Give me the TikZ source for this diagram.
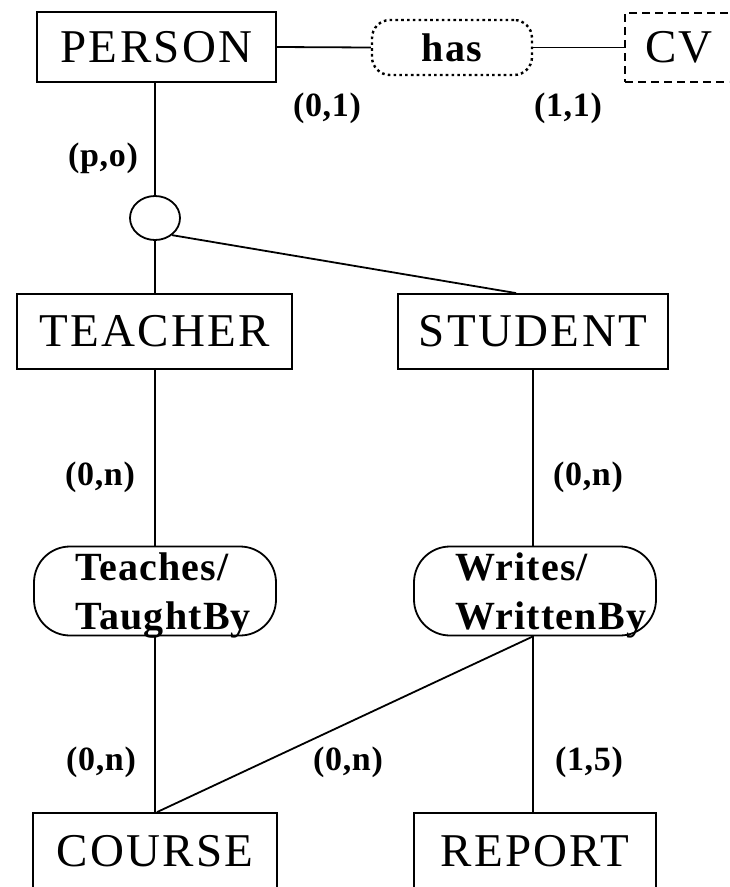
\documentclass[tikz,border=0pt]{standalone}
\usepackage{fontspec}
\setmainfont{Liberation Serif}
\usetikzlibrary{shapes.geometric}
\newcommand\entityfont{\fontsize{47}{54}\selectfont\addfontfeature{LetterSpace=5}}
\newcommand\relfont{\fontsize{40}{49}\selectfont\bfseries\addfontfeature{LetterSpace=3}}
\newcommand\cardfont{\fontsize{34}{38}\selectfont\bfseries\addfontfeature{LetterSpace=2}}
\begin{document}
\begin{tikzpicture}[x=1pt,y=-1pt,line width=1.8pt,
  entity/.style={draw,rectangle,inner sep=0pt,font=\entityfont},
  relation/.style={draw,rectangle,inner sep=0pt,rounded corners=36pt,
    font=\relfont,align=left,text width=160pt,text depth=49pt,
    minimum width=242pt,minimum height=89pt},
  card/.style={inner sep=0pt,font=\cardfont},
  isanode/.style={draw,ellipse,inner sep=0pt,minimum width=50pt,minimum height=44pt}]
\useasboundingbox (0,0) rectangle (729,887);
\clip (0,0) rectangle (729,887);

% entities
\node[entity,minimum width=239pt,minimum height=70pt] (person) at (156.5,47) {PERSON};
\node[entity,dash pattern=on 8pt off 5pt,minimum width=108pt,minimum height=69pt] (cv) at (679,47.5) {CV};
\node[entity,minimum width=275pt,minimum height=75pt] (teacher) at (154.5,331.5) {TEACHER};
\node[entity,minimum width=270pt,minimum height=75pt] (student) at (533,331.5) {STUDENT};
\node[entity,minimum width=244pt,minimum height=76pt] (course) at (155,851) {COURSE};
\node[entity,minimum width=242pt,minimum height=76pt] (report) at (535,851) {REPORT};

% relationships
\node[draw,rectangle,inner sep=0pt,rounded corners=18pt,line width=2.4pt,
  dash pattern=on 2.6pt off 3.2pt,font=\relfont,
  minimum width=160pt,minimum height=55pt] (has) at (452,47.5) {has};
\node[relation] (teaches) at (155,591) {Teaches/\\TaughtBy};
\node[relation] (writes) at (535,591) {Writes/\\WrittenBy};

% specialisation circle
\node[isanode] (isa) at (155,218) {};

% connectors
\draw (person.east) -- (has.west);
\draw (has.east) -- (cv.west);
\draw (isa.north) -- (isa.north |- person.south);
\draw (isa.south) -- (isa.south |- teacher.north);
\draw (isa.-45) -- ([xshift=119pt]student.north west);
\draw (teaches.north |- teacher.south) -- (teaches.north);
\draw (student.south) -- (student.south |- writes.north);
\draw (teaches.south) -- (course.north);
\draw (student.south |- writes.south) -- ([xshift=2pt]course.north);
\draw (student.south |- writes.south) -- (student.south |- report.north);

% cardinalities
\node[card] (c01) at (327,108) {(0,1)};
\node[card] (c11) at (568,108) {(1,1)};
\node[card] (cpo) at (103,158) {(p,o)};
\node[card] (ctn) at (100,477) {(0,n)};
\node[card] (csn) at (588,477) {(0,n)};
\node[card] (ccn) at (101,762) {(0,n)};
\node[card] (cwn) at (348,762) {(0,n)};
\node[card] (cr5) at (589,762) {(1,5)};
\end{tikzpicture}
\end{document}
